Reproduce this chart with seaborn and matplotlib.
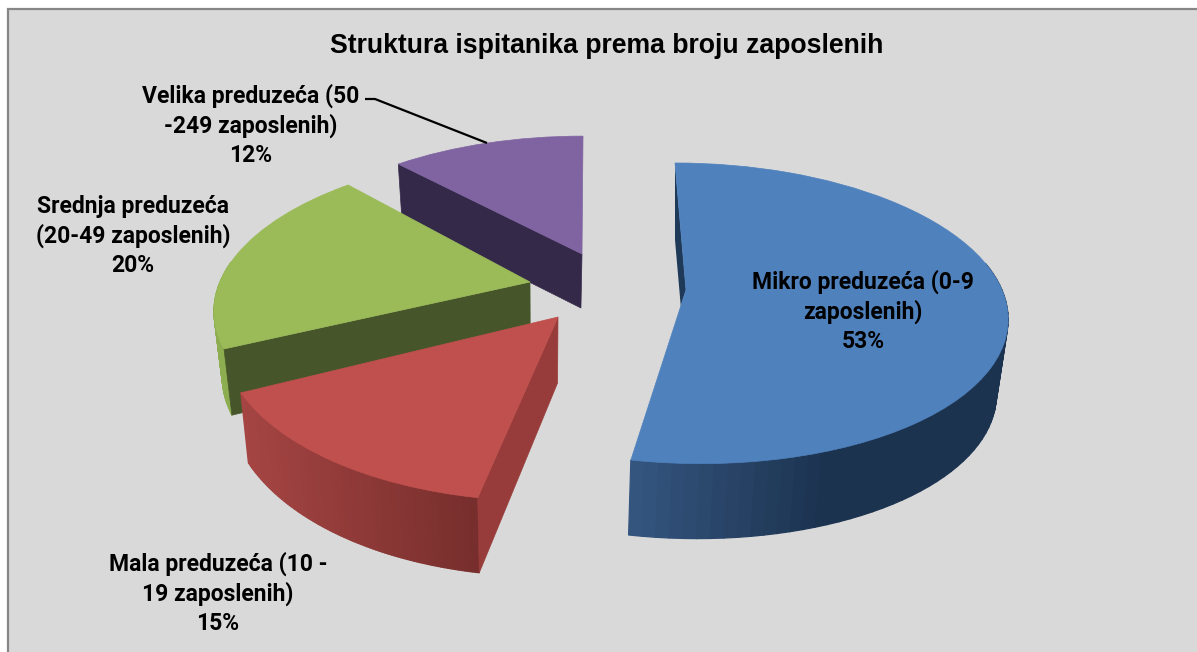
import numpy as np
import matplotlib
matplotlib.use("Agg")
import matplotlib.pyplot as plt
from matplotlib.transforms import Transform
from matplotlib.patches import Rectangle, Polygon
from matplotlib.collections import PolyCollection
import matplotlib.colors as mc
import seaborn as sns

categories = ["Mikro preduzeća (0-9\nzaposlenih)", "Mala preduzeća (10 -\n19 zaposlenih)",
              "Srednja preduzeća\n(20-49 zaposlenih)", "Velika preduzeća (50\n-249 zaposlenih)"]
shares = [53, 15, 20, 12]
title = "Struktura ispitanika prema broju zaposlenih"

palette = ["#4f81bd", "#c0504d", "#9bbb59", "#8064a2"]
sns.set_theme(style="white")
plt.rcParams["font.family"] = ["Roboto", "Liberation Sans", "DejaVu Sans"]


class Persp(Transform):
    """Perspective view of the unit pie plane, with its apex placed on the canvas."""
    input_dims = output_dims = 2
    def __init__(self, ox, oy, a, b, s, k):
        super().__init__()
        self.p = (ox, oy, a, b, s, k)
    def transform_non_affine(self, v):
        ox, oy, a, b, s, k = self.p
        v = np.asarray(v, float)
        w = 1 + k * v[:, 1]
        return np.column_stack([ox + (a * v[:, 0] + s * v[:, 1]) / w, oy - b * v[:, 1] / w])


# layout of each exploded slice: apex x/y, x radius, y radius, shear, perspective,
# wall depth and its growth towards the viewer
views = [
    dict(ox=686, oy=290, a=316, b=146.7, s=-12.7, k=0.155, d=75, g=0.0),
    dict(ox=558, oy=317, a=336, b=174, s=13.2, k=0.055, d=66, g=0.14),
    dict(ox=530, oy=282, a=310, b=147.4, s=14.9, k=0.147, d=62, g=0.16),
    dict(ox=582, oy=254, a=308, b=141, s=1.2, k=0.196, d=54, g=0.0),
]
wall_left = ["#34557e", "#a54543", "#8cae50", "#35294a"]
wall_right = ["#1c3350", "#762e2c", "#8cae50", "#35294a"]
inner_wall = ["#1f3a58", "#973c3a", "#47562a", "#35294a"]

fig = plt.figure(figsize=(11.97, 6.52), dpi=100, facecolor="white")
ax = fig.add_axes([0, 0, 1, 1])
wedges, _ = ax.pie(shares, startangle=90, counterclock=False, colors=palette, radius=1)
ax.set_aspect("auto")
ax.set_xlim(0, 1197)
ax.set_ylim(652, 0)
ax.set_axis_off()

ax.add_patch(Rectangle((7.5, 8.5), 1300, 700, fc="#d9d9d9", ec="#868686", lw=1.6, zorder=0))


def drop(view, pts):
    """Bottom-edge points under top-edge points."""
    return np.column_stack([pts[:, 0] - (pts[:, 0] - 540) * 0.025, pts[:, 1] + view["d"]])


order = [3, 2, 1, 0]
for z, i in enumerate(order):
    w = wedges[i]
    v = views[i]
    T = Persp(v["ox"], v["oy"], v["a"], v["b"], v["s"], v["k"])
    t1, t2 = np.radians(min(w.theta1, w.theta2)), np.radians(max(w.theta1, w.theta2))
    th = np.linspace(t1, t2, 90)
    top = T.transform_non_affine(np.column_stack([np.cos(th), np.sin(th)]))
    bot = drop(v, top)
    bot[:, 1] = top[:, 1] + v["d"] * (1 + v["g"] * np.clip(-np.sin(th), 0, 1))
    apex = np.array([[v["ox"], v["oy"]]], float)
    apex_b = drop(v, apex)
    base = 2 + 3 * z
    if i != 3:
        idx = [j for j in range(len(th) - 1) if np.sin(th[j]) < 0.15]
        quads = [[top[j], top[j + 1], bot[j + 1], bot[j]] for j in idx]
        xmin, xmax = top[:, 0].min(), top[:, 0].max()
        c0, c1 = np.array(mc.to_rgb(wall_left[i])), np.array(mc.to_rgb(wall_right[i]))
        frac = np.array([(q[0][0] - xmin) / (xmax - xmin) for q in quads])
        if i == 0:
            frac = np.clip(frac / 0.5, 0, 1)
        cols = [c0 + (c1 - c0) * f for f in frac]
        ax.add_collection(PolyCollection(quads, facecolors=cols, edgecolors=cols, lw=0.9, zorder=base))
    if i == 1:   # cut face between apex and the near end of the arc
        ax.add_patch(Polygon([apex[0], top[-1], bot[-1], apex_b[0]], fc=inner_wall[i], ec=inner_wall[i], lw=0.5, zorder=base + 1))
    if i in (2, 3):
        ax.add_patch(Polygon([apex[0], top[-1], bot[-1], apex_b[0]], fc=inner_wall[i], ec=inner_wall[i], lw=0.5, zorder=base + 1))
    if i == 0:
        p1, p2 = top[-1], top[0]
        sl = [p1, apex[0], apex[0] + (p2 - apex[0]) * 0.095, p1 + np.array([0, 77])]
        ax.add_patch(Polygon(sl, fc=inner_wall[i], ec="none", zorder=base + 1))
    w.set_transform(T + ax.transData)
    w.set_zorder(base + 2)
    w.set_edgecolor(palette[i])
    w.set_linewidth(0.5)

# labels
lab_font = dict(ha="center", va="center", fontweight="bold", color="black", fontsize=16.5, linespacing=1.3, zorder=50)
ax.text(863, 311, f"{categories[0]}\n{shares[0]}%", **lab_font)
ax.text(218, 593, f"{categories[1]}\n{shares[1]}%", **lab_font)
ax.text(133, 236, f"{categories[2]}\n{shares[2]}%", **lab_font)
ax.text(251, 125, f"{categories[3]}\n{shares[3]}%", **lab_font)
ax.plot([365, 375, 487], [99, 99, 143], color="black", lw=1.6, zorder=40, solid_capstyle="butt")
ax.text(607, 46, title, ha="center", va="center", fontweight="bold", color="black",
        fontsize=19.2, family=["Liberation Sans", "DejaVu Sans"], zorder=50)

fig.savefig("out.png", dpi=100, facecolor="white")
